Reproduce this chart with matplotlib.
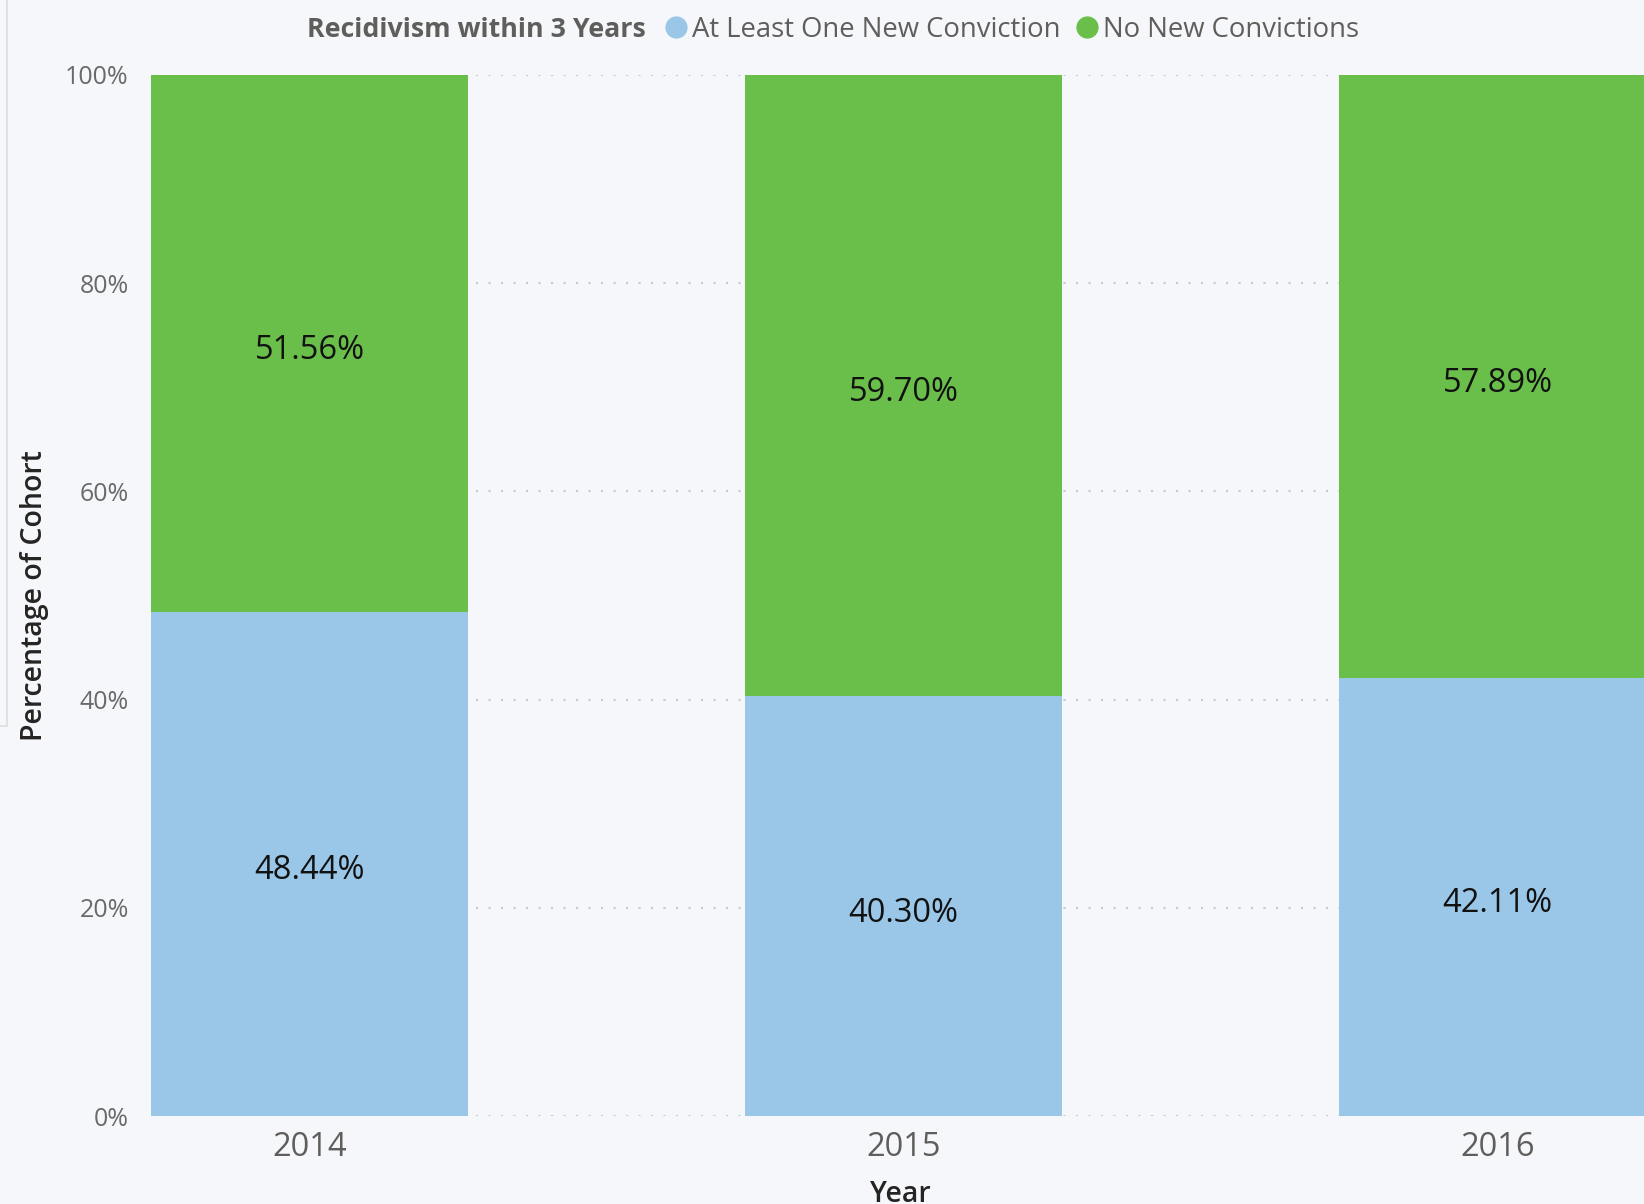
import matplotlib.pyplot as plt
from matplotlib.lines import Line2D
from matplotlib.ticker import PercentFormatter

plt.rcParams['font.family'] = ['Open Sans', 'DejaVu Sans']

years = ["2014", "2015", "2016"]
at_least_one = [48.44, 40.30, 42.11]
no_new = [51.56, 59.70, 57.89]
series_names = ["At Least One New Conviction", "No New Convictions"]
legend_title = "Recidivism within 3 Years"

blue = "#9AC7E8"
green = "#6ABF4B"
bg = "#F6F7FB"

fig = plt.figure(figsize=(16.44, 12.04), dpi=100, facecolor=bg)
ax = fig.add_axes([151/1644, 88/1204, 1 - 151/1644, (1116-75)/1204])
ax.set_facecolor(bg)

x = list(range(len(years)))
w = 0.534
ax.bar(x, at_least_one, width=w, color=blue, zorder=2)
ax.bar(x, no_new, width=w, bottom=at_least_one, color=green, zorder=2)

for i in x:
    ax.annotate(f"{at_least_one[i]:.2f}%", (i, at_least_one[i] / 2), xytext=(0, -5),
                textcoords="offset points", ha="center", va="center",
                fontsize=23.5, color="#111111", zorder=3)
    ax.annotate(f"{no_new[i]:.2f}%", (i, at_least_one[i] + no_new[i] / 2), xytext=(0, -5),
                textcoords="offset points", ha="center", va="center",
                fontsize=23.5, color="#111111", zorder=3)

ax.set_xlim(-w / 2, -w / 2 + 1493 / 594)
ax.set_ylim(0, 100)
ax.set_yticks([0, 20, 40, 60, 80, 100])
ax.yaxis.set_major_formatter(PercentFormatter(decimals=0))
ax.set_xticks(x)
ax.set_xticklabels(years)
ax.tick_params(axis="y", length=0, pad=16, labelsize=18, labelcolor="#6A6A6A")
ax.tick_params(axis="x", length=0, pad=11, labelsize=23.5, labelcolor="#605E5C")
ax.grid(axis="y", color="#C8C8C8", linewidth=1.5, linestyle=(0, (1, 5)), zorder=0)
for s in ax.spines.values():
    s.set_visible(False)

ax.set_ylabel("Percentage of Cohort", fontsize=20.5, color="#252423", fontweight="semibold")
ax.yaxis.set_label_coords(-0.0683, 0.5)
ax.set_xlabel("Year", fontsize=20.5, color="#252423", fontweight="semibold")
ax.xaxis.set_label_coords(0.502, -0.0615)

# legend
fig.text(307/1644, 1 - 30/1204, legend_title, ha="left", va="center", fontsize=19.3,
         fontweight="bold", color="#605E5C")
handles = [Line2D([], [], marker="o", linestyle="none", markersize=16, color=c, markeredgewidth=0)
           for c in (blue, green)]
leg = fig.legend(handles, series_names, loc="center left", bbox_to_anchor=(662/1644, 1 - 30/1204),
                 ncol=2, frameon=False, fontsize=19.8, handlelength=1.0, handletextpad=0.1,
                 columnspacing=0.45, borderpad=0, borderaxespad=0)
for t in leg.get_texts():
    t.set_color("#605E5C")

# border of the neighbouring panel on the left
fig.add_artist(Line2D([7/1644, 7/1644], [1, 1 - 726/1204], color="#E1E1E1", linewidth=1.5))
fig.add_artist(Line2D([0, 7/1644], [1 - 726/1204, 1 - 726/1204], color="#E1E1E1", linewidth=1.5))

fig.savefig("out.png", dpi=100, facecolor=bg)
